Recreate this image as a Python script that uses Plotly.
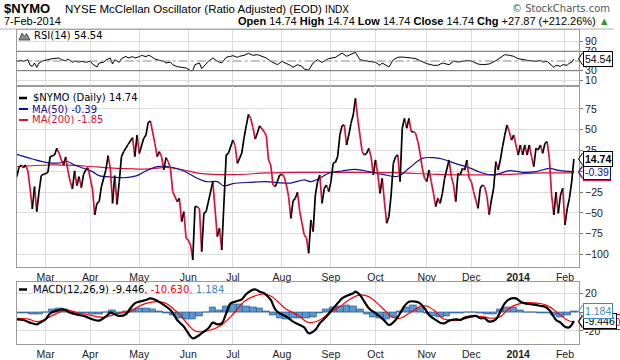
import plotly.graph_objects as go
import pandas as pd

# ---------------- data ----------------
holidays = ["2013-02-18", "2013-03-29", "2013-05-27", "2013-07-04", "2013-09-02",
            "2013-11-28", "2013-12-25", "2014-01-01", "2014-01-20"]
tick_labels = ["Mar", "Apr", "May", "Jun", "Jul", "Aug", "Sep", "Oct", "Nov", "Dec", "<b>2014</b>", "Feb"]

nymo_dates = [
    "2013-02-11", "2013-02-12", "2013-02-13", "2013-02-14", "2013-02-15", "2013-02-19", "2013-02-20", "2013-02-21",
    "2013-02-22", "2013-02-25", "2013-02-26", "2013-02-27", "2013-02-28", "2013-03-01", "2013-03-04", "2013-03-05",
    "2013-03-06", "2013-03-07", "2013-03-08", "2013-03-11", "2013-03-12", "2013-03-13", "2013-03-14", "2013-03-15",
    "2013-03-18", "2013-03-19", "2013-03-20", "2013-03-21", "2013-03-22", "2013-03-25", "2013-03-26", "2013-03-27",
    "2013-03-28", "2013-04-01", "2013-04-02", "2013-04-03", "2013-04-04", "2013-04-05", "2013-04-08", "2013-04-10",
    "2013-04-11", "2013-04-12", "2013-04-15", "2013-04-16", "2013-04-17", "2013-04-18", "2013-04-19", "2013-04-22",
    "2013-04-24", "2013-04-26", "2013-04-29", "2013-04-30", "2013-05-01", "2013-05-03", "2013-05-06", "2013-05-07",
    "2013-05-08", "2013-05-10", "2013-05-13", "2013-05-14", "2013-05-15", "2013-05-16", "2013-05-17", "2013-05-20",
    "2013-05-21", "2013-05-22", "2013-05-24", "2013-05-28", "2013-05-29", "2013-05-30", "2013-05-31", "2013-06-03",
    "2013-06-04", "2013-06-05", "2013-06-06", "2013-06-07", "2013-06-10", "2013-06-11", "2013-06-12", "2013-06-13",
    "2013-06-18", "2013-06-20", "2013-06-21", "2013-06-24", "2013-06-26", "2013-06-27", "2013-07-01", "2013-07-02",
    "2013-07-03", "2013-07-05", "2013-07-08", "2013-07-09", "2013-07-10", "2013-07-11", "2013-07-12", "2013-07-15",
    "2013-07-16", "2013-07-17", "2013-07-18", "2013-07-22", "2013-07-23", "2013-07-24", "2013-07-25", "2013-07-26",
    "2013-07-29", "2013-07-30", "2013-07-31", "2013-08-01", "2013-08-02", "2013-08-05", "2013-08-06", "2013-08-07",
    "2013-08-08", "2013-08-09", "2013-08-12", "2013-08-13", "2013-08-15", "2013-08-16", "2013-08-19", "2013-08-20",
    "2013-08-21", "2013-08-22", "2013-08-23", "2013-08-26", "2013-08-27", "2013-08-28", "2013-08-29", "2013-08-30",
    "2013-09-03", "2013-09-04", "2013-09-05", "2013-09-06", "2013-09-09", "2013-09-10", "2013-09-11", "2013-09-12",
    "2013-09-13", "2013-09-16", "2013-09-17", "2013-09-18", "2013-09-19", "2013-09-20", "2013-09-23", "2013-09-24",
    "2013-09-25", "2013-09-26", "2013-09-27", "2013-09-30", "2013-10-01", "2013-10-02", "2013-10-03", "2013-10-04",
    "2013-10-07", "2013-10-08", "2013-10-09", "2013-10-10", "2013-10-11", "2013-10-14", "2013-10-15", "2013-10-16",
    "2013-10-17", "2013-10-18", "2013-10-21", "2013-10-22", "2013-10-23", "2013-10-24", "2013-10-25", "2013-10-28",
    "2013-10-29", "2013-10-30", "2013-10-31", "2013-11-01", "2013-11-04", "2013-11-05", "2013-11-06", "2013-11-07",
    "2013-11-08", "2013-11-11", "2013-11-12", "2013-11-13", "2013-11-15", "2013-11-18", "2013-11-19", "2013-11-20",
    "2013-11-21", "2013-11-22", "2013-11-25", "2013-11-26", "2013-11-27", "2013-11-29", "2013-12-02", "2013-12-03",
    "2013-12-04", "2013-12-05", "2013-12-06", "2013-12-09", "2013-12-10", "2013-12-11", "2013-12-12", "2013-12-13",
    "2013-12-16", "2013-12-17", "2013-12-18", "2013-12-19", "2013-12-20", "2013-12-23", "2013-12-24", "2013-12-26",
    "2013-12-27", "2013-12-30", "2013-12-31", "2014-01-02", "2014-01-03", "2014-01-06", "2014-01-07", "2014-01-08",
    "2014-01-09", "2014-01-10", "2014-01-13", "2014-01-14", "2014-01-15", "2014-01-16", "2014-01-17", "2014-01-21",
    "2014-01-22", "2014-01-23", "2014-01-24", "2014-01-27", "2014-01-28", "2014-01-29", "2014-01-30", "2014-01-31",
    "2014-02-03", "2014-02-04", "2014-02-05", "2014-02-06", "2014-02-07"]
nymo_vals = [
    -6.5, 4.4, 7.6, 4.4, 7.6, 0.4, -20.4, -45.3,
    -18.5, -48.5, -25.2, -5.2, -3.6, -2.8, -1.2, 17.6,
    18.8, 19.6, 27.6, 21.6, 13.6, 7.6, 17.2, 0.4,
    -12.4, -21.2, 0.4, -17.2, -6.4, -19.6, -3.6, 1.6,
    4.4, -8.4, -21.2, -52.5, -38.5, -36.5, -18.5, 1.6,
    18.8, 3.6, -38.5, -5.2, -39.7, -13.2, 17.6, 23.6,
    32.4, 40.4, 17.6, 43.6, 21.5, 39.6, 43.6, 58.8,
    60.4, 33.6, 17.6, 23.6, 17.6, 1.6, 16.4, 11.6,
    3.6, -24.5, -36.5, -32.5, -60.5, -48.5, -80.6, -82.6,
    -88.6, -106.6, -42.5, -42.5, -45.3, -96.6, -50.5, -48.5,
    -12.4, -78.5, -68.5, -94.6, 19.6, 21.6, 37.6, 31.0,
    9.6, 15.6, 22.0, 40.0, 55.0, 68.5, 63.7, 52.5,
    38.8, 46.0, 54.9, 47.7, 42.8, 13.6, 7.6, -16.4,
    -18.5, -12.0, -4.4, -3.6, -6.4, -16.4, -30.0, -56.5,
    -35.6, -32.5, -25.2, -48.5, -76.5, -79.7, -98.6, -58.5,
    -72.5, -28.5, -12.4, -4.4, -38.5, -20.4, -16.4, -24.5,
    -12.4, 9.6, 10.8, 17.6, 43.6, 54.9, 55.7, 31.6,
    43.6, 57.7, 67.7, 87.7, 63.7, 43.6, 23.6, 19.6,
    21.6, 27.6, 17.6, -4.4, 13.6, -2.4, -26.5, -8.4,
    -36.5, -62.5, -54.5, -28.5, 9.6, 17.6, 19.6, -12.4,
    51.7, 63.7, 51.7, 63.7, 47.7, 47.7, 45.6, 35.6,
    21.6, 3.6, -8.4, -12.4, 1.6, -12.4, -26.5, -42.5,
    -32.5, -38.5, -26.5, -8.4, 13.6, -6.4, -16.4, -36.5,
    -2.4, -4.4, 3.6, 1.6, 13.6, -8.4, -12.4, -24.5,
    -34.5, -44.5, -20.4, -16.4, -18.5, -30.5, -52.0, -34.5,
    -20.4, 11.6, 1.6, 13.6, 29.7, 43.6, 55.7, 47.7,
    37.6, 43.6, 31.6, 19.6, 31.6, 19.6, 31.6, 19.6,
    31.6, 17.6, 5.6, 28.0, 25.6, 31.6, 21.6, 33.6,
    35.6, 15.6, -28.5, -52.5, -25.0, -50.5, -28.5, -20.4,
    -64.5, -45.0, -32.5, -13.1, 14.74]

ma50_dates = ["2013-02-11", "2013-02-21", "2013-03-01", "2013-03-11", "2013-03-14", "2013-03-20", "2013-03-26",
              "2013-04-02", "2013-04-05", "2013-04-15", "2013-04-23", "2013-04-30", "2013-05-06", "2013-05-13",
              "2013-05-21", "2013-05-30", "2013-06-07", "2013-06-13", "2013-06-20", "2013-06-25", "2013-07-01",
              "2013-07-12", "2013-07-23", "2013-07-30", "2013-08-07", "2013-08-15", "2013-08-20", "2013-08-26",
              "2013-08-30", "2013-09-10", "2013-09-18", "2013-09-26", "2013-10-04", "2013-10-15", "2013-10-22",
              "2013-10-30", "2013-11-06", "2013-11-12", "2013-11-20", "2013-11-29", "2013-12-06", "2013-12-13",
              "2013-12-19", "2013-12-26", "2014-01-06", "2014-01-14", "2014-01-23", "2014-01-29", "2014-02-07"]
ma50_vals = [20.4, 14.8, 10.8, 10.0, 12.4, 7.6, 3.6,
             -0.4, -5.2, -6.9, -7.7, -5.2, 0.4, 5.6,
             5.2, 0.4, -8.4, -12.4, -12.4, -17.6, -14.8,
             -13.2, -12.4, -13.6, -14.1, -10.4, -12.4, -8.4,
             -2.4, 0.4, 2.4, -0.4, -3.6, -6.0, 3.6,
             15.6, 16.4, 14.8, 9.2, 4.4, -1.2, -4.4,
             -2.4, 0.8, -1.2, -0.4, 3.6, 1.2, -0.39]

ma200_dates = ["2013-02-11", "2013-03-05", "2013-03-26", "2013-04-17", "2013-05-08", "2013-05-17", "2013-05-30",
               "2013-06-10", "2013-07-01", "2013-07-23", "2013-08-13", "2013-09-10", "2013-10-11", "2013-11-07",
               "2013-12-04", "2013-12-26", "2014-01-17", "2014-02-07"]
ma200_vals = [5.6, 7.6, 6.4, 3.6, 2.8, 4.8, 1.6,
              -2.4, -4.0, -2.0, -1.2, -1.2, -1.6, -3.6,
              -4.4, -3.6, -2.0, -1.85]

rsi_dates = [
    "2013-02-11", "2013-02-13", "2013-02-14", "2013-02-19", "2013-02-20", "2013-02-21", "2013-02-22", "2013-02-25",
    "2013-02-26", "2013-02-28", "2013-03-04", "2013-03-06", "2013-03-11", "2013-03-12", "2013-03-14", "2013-03-15",
    "2013-03-19", "2013-03-20", "2013-03-22", "2013-03-25", "2013-03-27", "2013-04-01", "2013-04-02", "2013-04-04",
    "2013-04-05", "2013-04-09", "2013-04-10", "2013-04-12", "2013-04-15", "2013-04-16", "2013-04-18", "2013-04-19",
    "2013-04-23", "2013-04-24", "2013-04-26", "2013-04-29", "2013-05-01", "2013-05-02", "2013-05-06", "2013-05-07",
    "2013-05-08", "2013-05-10", "2013-05-14", "2013-05-16", "2013-05-17", "2013-05-21", "2013-05-22", "2013-05-24",
    "2013-05-29", "2013-05-31", "2013-06-04", "2013-06-05", "2013-06-06", "2013-06-10", "2013-06-11", "2013-06-13",
    "2013-06-14", "2013-06-18", "2013-06-20", "2013-06-24", "2013-06-25", "2013-06-26", "2013-06-28", "2013-07-01",
    "2013-07-03", "2013-07-05", "2013-07-09", "2013-07-11", "2013-07-15", "2013-07-17", "2013-07-19", "2013-07-23",
    "2013-07-25", "2013-07-29", "2013-07-30", "2013-08-01", "2013-08-05", "2013-08-07", "2013-08-08", "2013-08-12",
    "2013-08-14", "2013-08-15", "2013-08-19", "2013-08-21", "2013-08-23", "2013-08-26", "2013-08-27", "2013-08-29",
    "2013-08-30", "2013-09-05", "2013-09-09", "2013-09-10", "2013-09-12", "2013-09-16", "2013-09-18", "2013-09-20",
    "2013-09-24", "2013-09-26", "2013-10-01", "2013-10-03", "2013-10-04", "2013-10-08", "2013-10-09", "2013-10-11",
    "2013-10-15", "2013-10-17", "2013-10-21", "2013-10-23", "2013-10-25", "2013-10-30", "2013-11-01", "2013-11-06",
    "2013-11-08", "2013-11-12", "2013-11-15", "2013-11-19", "2013-11-21", "2013-11-25", "2013-11-29", "2013-12-03",
    "2013-12-05", "2013-12-09", "2013-12-12", "2013-12-17", "2013-12-19", "2013-12-23", "2013-12-26", "2013-12-30",
    "2014-01-02", "2014-01-06", "2014-01-09", "2014-01-14", "2014-01-16", "2014-01-17", "2014-01-22", "2014-01-27",
    "2014-01-28", "2014-01-30", "2014-01-31", "2014-02-04", "2014-02-05", "2014-02-06", "2014-02-07"]
rsi_vals = [
    49.3, 51.4, 49.3, 52.7, 41.1, 39.0, 45.9, 36.9,
    45.9, 50.7, 52.7, 54.8, 56.2, 52.7, 50.7, 54.1,
    47.3, 49.3, 47.9, 49.3, 47.3, 49.3, 43.8, 37.6,
    45.9, 47.3, 52.1, 56.2, 43.8, 52.7, 47.3, 54.8,
    59.6, 56.2, 58.9, 56.2, 58.9, 61.7, 58.9, 61.7,
    60.3, 54.1, 51.4, 49.3, 45.9, 47.9, 42.4, 38.3,
    36.9, 35.6, 30.1, 30.1, 42.4, 45.9, 34.2, 45.9,
    49.3, 56.2, 49.3, 45.9, 52.7, 57.6, 59.6, 61.0,
    57.6, 59.6, 61.7, 65.8, 61.7, 63.1, 59.6, 56.2,
    49.3, 43.8, 42.4, 49.3, 45.2, 40.4, 36.9, 42.4,
    39.0, 33.5, 31.0, 45.9, 52.7, 49.3, 47.0, 52.7,
    54.8, 57.6, 63.1, 66.5, 59.6, 63.1, 67.9, 52.7,
    50.7, 49.3, 47.3, 41.1, 45.9, 41.1, 37.6, 52.7,
    57.6, 58.2, 57.6, 56.2, 54.8, 49.3, 44.5, 41.1,
    41.1, 45.9, 42.4, 49.3, 47.9, 49.3, 51.4, 47.9,
    43.8, 42.4, 43.8, 50.7, 56.2, 63.1, 61.7, 59.6,
    54.8, 52.7, 50.7, 49.3, 51.4, 47.9, 49.3, 36.9,
    41.1, 39.0, 42.4, 41.1, 45.9, 47.0, 54.54]

macd_dates = [
    "2013-02-11", "2013-02-14", "2013-02-20", "2013-02-25", "2013-02-26", "2013-03-01", "2013-03-05", "2013-03-08",
    "2013-03-13", "2013-03-15", "2013-03-19", "2013-03-22", "2013-03-27", "2013-04-02", "2013-04-05", "2013-04-10",
    "2013-04-12", "2013-04-16", "2013-04-18", "2013-04-23", "2013-04-25", "2013-04-29", "2013-05-01", "2013-05-06",
    "2013-05-08", "2013-05-13", "2013-05-16", "2013-05-21", "2013-05-24", "2013-05-30", "2013-06-03", "2013-06-05",
    "2013-06-10", "2013-06-12", "2013-06-14", "2013-06-18", "2013-06-20", "2013-06-24", "2013-06-26", "2013-06-28",
    "2013-07-03", "2013-07-08", "2013-07-10", "2013-07-12", "2013-07-16", "2013-07-18", "2013-07-22", "2013-07-25",
    "2013-07-29", "2013-07-31", "2013-08-05", "2013-08-08", "2013-08-13", "2013-08-15", "2013-08-19", "2013-08-22",
    "2013-08-26", "2013-08-29", "2013-09-04", "2013-09-06", "2013-09-10", "2013-09-13", "2013-09-17", "2013-09-18",
    "2013-09-20", "2013-09-24", "2013-09-26", "2013-10-01", "2013-10-03", "2013-10-07", "2013-10-09", "2013-10-14",
    "2013-10-16", "2013-10-18", "2013-10-22", "2013-10-25", "2013-10-29", "2013-10-31", "2013-11-04", "2013-11-07",
    "2013-11-11", "2013-11-13", "2013-11-15", "2013-11-20", "2013-11-22", "2013-11-26", "2013-11-29", "2013-12-04",
    "2013-12-06", "2013-12-10", "2013-12-12", "2013-12-17", "2013-12-19", "2013-12-23", "2013-12-26", "2013-12-31",
    "2014-01-03", "2014-01-07", "2014-01-09", "2014-01-14", "2014-01-16", "2014-01-21", "2014-01-23", "2014-01-28",
    "2014-01-30", "2014-02-03", "2014-02-05", "2014-02-07"]
macd_vals = [
    -7.5, -8.2, -11.1, -12.9, -11.8, -7.5, -1.1, 1.8,
    3.2, 0.7, -1.1, -2.9, -4.6, -7.5, -8.9, -4.6,
    -0.4, -2.1, -3.9, -2.1, 4.3, 9.6, 11.4, 13.2,
    15.0, 12.5, 7.9, 2.5, -8.2, -15.4, -22.5, -27.9,
    -24.3, -20.7, -17.1, -11.1, -12.9, -11.8, -1.1, 9.6,
    12.1, 13.9, 19.6, 23.2, 24.6, 22.1, 20.4, 13.2,
    3.2, -1.1, -4.6, -10.0, -13.6, -16.1, -22.5, -18.9,
    -11.8, -4.6, 4.3, 9.6, 15.0, 18.6, 20.4, 22.1,
    18.6, 11.4, 4.3, -1.1, -4.6, -8.9, -13.6, -8.2,
    -1.1, 6.8, 11.4, 11.4, 9.6, 4.3, -2.9, -8.2,
    -11.1, -11.8, -8.9, -7.5, -8.2, -5.7, -4.6, -3.9,
    -6.4, -6.4, -10.0, -7.5, 0.7, 9.6, 13.9, 15.0,
    11.4, 9.6, 8.9, 7.9, 6.8, 6.1, 2.5, -8.2,
    -11.1, -15.4, -16.1, -9.446]

signal_dates = [
    "2013-02-11", "2013-02-19", "2013-02-25", "2013-02-28", "2013-03-05", "2013-03-08", "2013-03-13", "2013-03-18",
    "2013-03-22", "2013-03-27", "2013-04-04", "2013-04-09", "2013-04-12", "2013-04-18", "2013-04-25", "2013-04-30",
    "2013-05-06", "2013-05-13", "2013-05-17", "2013-05-22", "2013-05-29", "2013-06-03", "2013-06-06", "2013-06-12",
    "2013-06-18", "2013-06-24", "2013-06-28", "2013-07-03", "2013-07-09", "2013-07-15", "2013-07-22", "2013-07-25",
    "2013-07-31", "2013-08-05", "2013-08-12", "2013-08-19", "2013-08-26", "2013-08-30", "2013-09-09", "2013-09-13",
    "2013-09-20", "2013-09-26", "2013-10-01", "2013-10-07", "2013-10-10", "2013-10-16", "2013-10-22", "2013-10-29",
    "2013-11-01", "2013-11-07", "2013-11-12", "2013-11-19", "2013-11-25", "2013-12-03", "2013-12-09", "2013-12-13",
    "2013-12-19", "2013-12-26", "2014-01-03", "2014-01-09", "2014-01-17", "2014-01-23", "2014-01-29", "2014-02-04",
    "2014-02-07"]
signal_vals = [
    -6.4, -7.1, -10.0, -8.2, -4.6, -1.1, 1.8, 1.8,
    -1.1, -2.1, -4.6, -5.4, -3.6, -1.1, 0.7, 5.4,
    9.6, 11.4, 9.6, 4.3, -4.6, -13.6, -20.0, -20.7,
    -18.2, -13.6, -4.6, 3.2, 11.4, 16.8, 19.6, 17.5,
    9.6, 3.2, -2.9, -11.0, -8.2, -1.1, 6.1, 13.2,
    18.6, 16.8, 11.4, 2.5, -4.6, -6.4, -1.1, 6.1,
    6.8, 0.7, -6.4, -8.9, -7.5, -4.6, -4.6, -6.4,
    -4.6, 4.3, 9.6, 10.4, 8.9, 6.1, -1.1, -8.2,
    -10.63]

hist_dates = [
    "2013-02-12", "2013-02-15", "2013-02-21", "2013-02-26", "2013-03-01", "2013-03-06", "2013-03-11", "2013-03-14",
    "2013-03-19", "2013-03-22", "2013-03-27", "2013-04-02", "2013-04-05", "2013-04-10", "2013-04-15", "2013-04-18",
    "2013-04-23", "2013-04-26", "2013-05-01", "2013-05-06", "2013-05-09", "2013-05-14", "2013-05-17", "2013-05-22",
    "2013-05-28", "2013-05-31", "2013-06-05", "2013-06-10", "2013-06-13", "2013-06-18", "2013-06-21", "2013-06-26",
    "2013-07-01", "2013-07-05", "2013-07-10", "2013-07-15", "2013-07-18", "2013-07-23", "2013-07-26", "2013-07-31",
    "2013-08-05", "2013-08-08", "2013-08-13", "2013-08-16", "2013-08-21", "2013-08-26", "2013-08-29", "2013-09-04",
    "2013-09-09", "2013-09-12", "2013-09-17", "2013-09-20", "2013-09-25", "2013-09-30", "2013-10-03", "2013-10-08",
    "2013-10-11", "2013-10-16", "2013-10-21", "2013-10-24", "2013-10-29", "2013-11-01", "2013-11-06", "2013-11-11",
    "2013-11-14", "2013-11-19", "2013-11-22", "2013-11-27", "2013-12-03", "2013-12-06", "2013-12-11", "2013-12-16",
    "2013-12-19", "2013-12-24", "2013-12-30", "2014-01-03", "2014-01-08", "2014-01-13", "2014-01-16", "2014-01-22",
    "2014-01-27", "2014-01-30", "2014-02-04", "2014-02-07"]
hist_vals = [
    -1.5, -1.5, -1.8, -2.0, -0.5, 3.5, 4.5, 3.5, -0.5, -1.0,
    -1.5, -2.0, -2.5, 0.5, 2.5, -1.0, 1.5, 3.5, 4.5, 4.0,
    3.5, 1.5, -1.5, -3.5, -6.0, -8.0, -7.0, -4.0, 0.5, 5.0,
    2.0, 6.5, 9.0, 8.5, 6.5, 5.5, 4.0, 1.5, -3.5, -6.5,
    -7.0, -6.0, -6.0, -6.5, -5.0, -1.0, 3.0, 5.5, 6.5, 7.0,
    6.0, 3.5, -2.0, -5.0, -6.5, -7.0, -5.5, 1.0, 5.5, 7.0,
    4.0, -1.5, -4.0, -5.0, -4.0, -1.5, -1.0, 0.5, -0.5, -1.5,
    -2.0, -2.5, 3.0, 5.5, 5.0, 2.5, 0.5, -0.5, -1.0, -1.5,
    -3.0, -5.0, -3.5, 1.184]

# ---------------- trading-day axis ----------------
sessions = [d for d in pd.bdate_range("2013-02-11", "2014-02-07") if d.strftime("%Y-%m-%d") not in holidays]
pos = {d.strftime("%Y-%m-%d"): i for i, d in enumerate(sessions)}
month_ticks = [i for i in range(1, len(sessions)) if sessions[i].month != sessions[i - 1].month]


def X(dates):
    return [pos[d] for d in dates]


# ---------------- styling helpers ----------------
W, H = 620, 360
LEFT, RIGHT = 16.7, 579.0


def px(x):
    return x / W


def py(y):
    return 1 - y / H


RED = "#d8123c"
NAVY = "#101095"
GRID = "#dddddd"
FRAME = "#9a9a9a"
STEEL = "#3f88c8"

fig = go.Figure()

# RSI panel
fig.add_trace(go.Scatter(x=X(rsi_dates), y=rsi_vals, mode="lines", line=dict(color="black", width=1),
                         xaxis="x", yaxis="y", hoverinfo="skip"))

# main panel: moving averages
fig.add_trace(go.Scatter(x=X(ma200_dates), y=ma200_vals, mode="lines", line=dict(color=RED, width=1.2),
                         xaxis="x2", yaxis="y2", line_shape="spline", hoverinfo="skip"))
fig.add_trace(go.Scatter(x=X(ma50_dates), y=ma50_vals, mode="lines", line=dict(color=NAVY, width=1.2),
                         xaxis="x2", yaxis="y2", line_shape="spline", hoverinfo="skip"))

# main panel: NYMO coloured by direction
nx = X(nymo_dates)
ux, uy, dx, dy = [], [], [], []
for i in range(1, len(nx)):
    tx, ty = (ux, uy) if nymo_vals[i] >= nymo_vals[i - 1] else (dx, dy)
    tx.extend([nx[i - 1], nx[i], None])
    ty.extend([nymo_vals[i - 1], nymo_vals[i], None])
fig.add_trace(go.Scatter(x=dx, y=dy, mode="lines", line=dict(color=RED, width=1.7), xaxis="x2", yaxis="y2",
                         hoverinfo="skip"))
fig.add_trace(go.Scatter(x=ux, y=uy, mode="lines", line=dict(color="black", width=1.7), xaxis="x2", yaxis="y2",
                         hoverinfo="skip"))

# MACD panel
fig.add_trace(go.Bar(x=X(hist_dates), y=hist_vals, width=3,
                     marker=dict(color="#5a98d0", line=dict(color="#1f4f86", width=0.6)),
                     xaxis="x3", yaxis="y3", hoverinfo="skip"))
fig.add_trace(go.Scatter(x=X(signal_dates), y=signal_vals, mode="lines", line=dict(color="#ff0000", width=1.2),
                         line_shape="spline", xaxis="x3", yaxis="y3", hoverinfo="skip"))
fig.add_trace(go.Scatter(x=X(macd_dates), y=macd_vals, mode="lines", line=dict(color="black", width=2.2),
                         line_shape="spline", xaxis="x3", yaxis="y3", hoverinfo="skip"))

# panel geometry (pixel rows)
RSI_TOP, RSI_BOT = 30.0, 85.5
MAIN_TOP, MAIN_BOT = 85.5, 267.0
MACD_TOP, MACD_BOT = 282.3, 344.0
rsi_range = [50 - (RSI_BOT - 61.0) / 0.485, 50 + (61.0 - RSI_TOP) / 0.485]
main_range = [-(MAIN_BOT - 171.3) / 0.8317, (171.3 - MAIN_TOP) / 0.8317]
macd_range = [-(MACD_BOT - 312.3) / 0.933, (312.3 - MACD_TOP) / 0.933]

tickfont = dict(family="Liberation Sans, Arial", size=10.5, color="#222")
xcommon = dict(range=[0, len(sessions) + 1.3], domain=[px(LEFT), px(RIGHT)], tickvals=month_ticks,
               ticktext=tick_labels, showgrid=True, gridcolor=GRID, gridwidth=1, showline=True,
               linecolor=FRAME, linewidth=1, mirror=True, zeroline=False, ticks="", tickfont=tickfont,
               fixedrange=True)
ycommon = dict(side="right", showgrid=True, gridcolor=GRID, gridwidth=1, showline=True, linecolor=FRAME,
               linewidth=1, mirror=True, zeroline=False, ticks="outside", ticklen=3, tickcolor="#777",
               tickfont=tickfont, fixedrange=True, automargin=False)

fig.update_layout(
    width=W, height=H, margin=dict(l=0, r=0, t=0, b=0), showlegend=False,
    plot_bgcolor="white", paper_bgcolor="white", bargap=0,
    xaxis=dict(xcommon, anchor="y", showticklabels=False),
    xaxis2=dict(xcommon, anchor="y2", showticklabels=True),
    xaxis3=dict(xcommon, anchor="y3", showticklabels=True),
    yaxis=dict(ycommon, anchor="x", domain=[py(RSI_BOT), py(RSI_TOP)], range=rsi_range,
               tickvals=[10, 30, 70, 90], ticktext=["10", "30", "70", "90"]),
    yaxis2=dict(ycommon, anchor="x2", domain=[py(MAIN_BOT), py(MAIN_TOP)], range=main_range,
                tickvals=[-100, -75, -50, -25, 0, 25, 50, 75]),
    yaxis3=dict(ycommon, anchor="x3", domain=[py(MACD_BOT), py(MACD_TOP)], range=macd_range,
                tickvals=[-20, 0, 20], ticktext=["-20", "", "20"]),
)

shapes = []
# RSI reference lines
for lvl, dash, col in [(70, "solid", "#6e6e6e"), (30, "solid", "#6e6e6e"), (50, "dashdot", "#8a8a8a")]:
    shapes.append(dict(type="line", xref="x domain", yref="y", x0=0, x1=1, y0=lvl, y1=lvl,
                       line=dict(color=col, width=1, dash=dash)))
# header separator
shapes.append(dict(type="line", xref="paper", yref="paper", x0=0, x1=px(614), y0=py(29), y1=py(29),
                   line=dict(color="#b0b0b0", width=1)))
# legend line samples
for (yy, col, w, x1) in [(98, "black", 2.5, 27), (109, NAVY, 2, 28), (120, RED, 2, 28), (289.5, "black", 2.5, 27)]:
    shapes.append(dict(type="line", xref="paper", yref="paper", x0=px(19), x1=px(x1), y0=py(yy), y1=py(yy),
                       line=dict(color=col, width=w)))
# RSI icon (small mountain)
shapes.append(dict(type="path", xref="paper", yref="paper",
                   path=f"M {px(19)},{py(40)} L {px(22)},{py(33)} L {px(24.5)},{py(36.5)} L {px(26.5)},{py(33.5)} "
                        f"L {px(30)},{py(40)} Z",
                   fillcolor="#8c8c8c", line=dict(color="#333", width=0.8)))

annotations = []


def txt(x, y, text, size=10, color="black", family="DejaVu Sans", anchor="left"):
    annotations.append(dict(x=px(x), y=py(y), xref="paper", yref="paper", text=text, showarrow=False,
                            xanchor=anchor, yanchor="middle", font=dict(family=family, size=size, color=color)))


# header
NARROW = "Liberation Sans Narrow, Arial Narrow, Liberation Sans"
txt(2, 8.5, "<b>$NYMO</b>", size=13, family="Liberation Sans, Arial")
txt(63, 8.5, "NYSE McClellan Oscillator (Ratio Adjusted) (EOD) <span style='font-size:10px'>INDX</span>",
    size=11.5, family=NARROW)
txt(612, 8.5, "© StockCharts.com", size=10, color="#555", anchor="right")
txt(2, 20.5, "7-Feb-2014", size=11, family="Liberation Sans, Arial")
txt(612, 20.5, "<b>Open</b> 14.74 <b>High</b> 14.74 <b>Low</b> 14.74 <b>Close</b> 14.74 <b>Chg</b> +27.87 (+212.26%) "
               "<span style='color:#2a9a2a'>▲</span>", size=11, family="Liberation Sans, Arial", anchor="right")

# legends
txt(31.5, 36, "RSI(14) 54.54")
txt(31, 98, "$NYMO (Daily) 14.74")
txt(29.5, 109, "MA(50) -0.39", color=NAVY)
txt(29.5, 120, "MA(200) -1.85", color=RED)
txt(31, 289.5, "MACD(12,26,9) -9.446<span style='color:#ff0000'>, -10.630</span>"
               f"<span style='color:{STEEL}'>, 1.184</span>")


# value boxes on the right axis
def value_box(yref, yrng, top, bot, val, text, col, bold=False):
    t = f"<b>{text}</b>" if bold else text
    annotations.append(dict(x=px(582.5), xref="paper", y=val, yref=yref, text=t, showarrow=False,
                            xanchor="left", yanchor="middle", bgcolor="white", bordercolor=col, borderwidth=1,
                            borderpad=1, font=dict(family="Liberation Sans, Arial", size=10.5, color=col)))
    ypix = top + (yrng[1] - val) / (yrng[1] - yrng[0]) * (bot - top)
    shapes.append(dict(type="path", xref="paper", yref="paper",
                       path=f"M {px(582.5)},{py(ypix - 6)} L {px(578.5)},{py(ypix)} L {px(582.5)},{py(ypix + 6)}",
                       line=dict(color=col, width=1)))


value_box("y", rsi_range, RSI_TOP, RSI_BOT, rsi_vals[-1], "54.54", "black")
value_box("y2", main_range, MAIN_TOP, MAIN_BOT, ma200_vals[-1], "-1.85", RED)
value_box("y2", main_range, MAIN_TOP, MAIN_BOT, ma50_vals[-1], "-0.39", NAVY)
value_box("y2", main_range, MAIN_TOP, MAIN_BOT, nymo_vals[-1], "14.74", "black", bold=True)
value_box("y3", macd_range, MACD_TOP, MACD_BOT, signal_vals[-1], "-10.630", "#ff0000")
value_box("y3", macd_range, MACD_TOP, MACD_BOT, macd_vals[-1], "-9.446", "black")
value_box("y3", macd_range, MACD_TOP, MACD_BOT, hist_vals[-1], "1.184", STEEL)

fig.update_layout(shapes=shapes, annotations=annotations)
fig.write_html("out.html", config={"displayModeBar": False},
               post_script="document.body.style.margin='0px';document.body.style.overflow='hidden';")
